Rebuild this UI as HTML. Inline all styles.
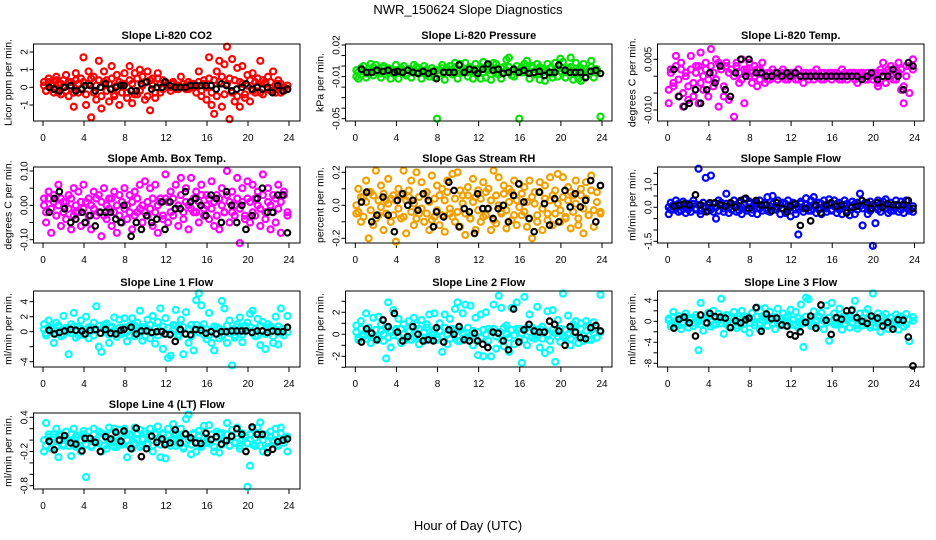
<!DOCTYPE html>
<html><head><meta charset="utf-8"><style>
html,body{margin:0;padding:0;background:#fff;}
svg{display:block;font-family:"Liberation Sans",Arial,sans-serif;}
</style></head><body>
<svg id="chart" width="936" height="540" viewBox="0 0 936 540" xmlns="http://www.w3.org/2000/svg">
<rect x="0" y="0" width="936" height="540" fill="#fff"/>
<text x="468" y="14" text-anchor="middle" font-size="13">NWR_150624  Slope Diagnostics</text>
<text x="468" y="530" text-anchor="middle" font-size="13">Hour of Day (UTC)</text>
</svg>
<script>
// shared hours
const hoursColored=[0.1,0.3,0.55,0.8,1.05,1.3,1.5,1.75,2.0,2.25,2.5,2.75,3.0,3.2,3.45,3.7,3.95,4.2,4.45,4.7,4.95,5.2,5.45,5.7,5.95,6.2,6.45,6.7,6.95,7.2,7.45,7.7,7.95,8.2,8.45,8.7,8.95,9.2,9.45,9.7,9.95,10.2,10.45,10.7,10.95,11.2,11.45,11.7,11.95,12.2,12.45,12.7,12.95,13.2,13.45,13.7,13.95,14.2,14.45,14.7,14.95,15.2,15.45,15.7,15.95,16.2,16.45,16.7,16.95,17.2,17.45,17.7,17.95,18.2,18.45,18.7,18.95,19.2,19.45,19.7,19.95,20.2,20.45,20.7,20.95,21.2,21.45,21.7,21.95,22.2,22.45,22.7,22.95,23.2,23.5,23.85];
const hoursBlack=[0.6,1.1,1.6,2.1,2.7,3.2,3.8,4.1,4.6,5.1,5.6,6.1,6.6,7.1,7.6,7.9,8.6,9.1,9.6,10.1,10.6,11.1,11.6,11.9,12.4,12.9,13.4,13.9,14.4,14.9,15.4,15.9,16.4,16.9,17.4,17.9,18.4,18.9,19.4,19.8,20.4,20.9,21.4,21.9,22.4,22.9,23.4,23.85];
const xTicks=[0,4,8,12,16,20,24];

const co2A=[0.3,-0.2,0.5,0.1,-0.3,0.6,0.2,-0.4,0.4,0.7,-0.5,0.3,-1.1,0.8,-0.3,0.5,1.7,-1.0,0.9,-1.7,0.6,-0.7,1.5,-1.2,0.9,0.4,-0.8,1.2,-0.5,0.7,-1.0,0.2,0.8,-0.6,1.2,-0.9,0.8,-0.4,1.0,0.6,-0.7,0.9,-1.3,0.5,-0.6,0.8,-0.3,0.4,0.3,0.2,-0.2,0.3,0.1,-0.1,0.6,0.2,-0.1,0.3,0.0,0.2,-0.3,0.9,-0.5,0.4,-0.7,1.7,-1.0,-1.5,0.9,1.5,-1.1,1.3,2.3,-1.8,1.6,-0.8,1.1,-1.1,1.2,-0.6,0.7,-0.8,0.8,-0.3,0.5,1.5,-0.4,0.3,0.6,-0.2,0.9,-0.3,0.4,0.2,-0.2,0.1];
const co2B=[0.1,-0.2,0.3,0.2,-0.1,0.4,-0.3,0.2,0.0,-0.2,0.3,0.1,-0.3,0.4,0.2,-0.1,0.3,-0.4,0.2,0.5,-0.3,0.1,0.4,-0.5,0.3,-0.2,0.2,0.5,-0.4,0.1,0.3,-0.3,0.2,-0.3,0.4,0.2,-0.4,0.5,-0.2,0.1,0.3,-0.5,0.4,0.1,-0.3,0.5,0.2,-0.1,0.3,0.1,0.0,0.2,-0.1,0.1,0.0,0.2,0.1,-0.1,0.2,0.0,0.1,0.3,-0.2,0.2,0.0,0.5,-0.3,0.4,-0.5,0.3,0.6,-0.4,0.2,0.5,-0.3,0.4,-0.5,0.3,0.2,-0.4,0.1,0.4,-0.2,0.3,0.1,-0.3,0.4,0.2,-0.1,0.3,-0.2,0.1,0.2,-0.3,0.0,-0.1];
const co2K=[0,-0.1,-0.2,0,0.1,-0.2,-0.1,0.1,0.1,-0.2,0,0.2,-0.1,0,0.1,0.1,-0.2,-0.2,0.2,0.3,-0.1,0,0,0.3,0.1,0,0,0,0.1,0.1,0.1,0.1,0.1,-0.1,0.2,0.1,-0.2,-0.1,0,0.2,-0.1,0,-0.1,0,-0.3,0.1,-0.2,-0.1];

const presA=[-0.01,-0.012,-0.002,0.0,-0.011,-0.006,0.002,-0.009,0.001,-0.004,-0.011,0.0,-0.008,-0.002,-0.012,-0.007,0.001,-0.012,-0.004,0.0,-0.009,-0.003,-0.011,0.001,-0.006,-0.002,-0.012,0.0,-0.008,-0.01,-0.002,-0.011,-0.05,-0.004,0.001,-0.013,-0.002,0.0,-0.008,0.003,-0.012,0.002,-0.006,0.003,-0.01,-0.001,-0.012,0.002,-0.004,-0.012,0.004,-0.011,0.0,-0.013,0.003,0.002,-0.008,-0.012,-0.001,0.006,0.008,-0.009,-0.01,0.0,-0.05,-0.006,0.002,0.005,-0.012,0.0,-0.008,0.002,-0.013,-0.003,-0.014,0.002,-0.007,-0.011,0.003,-0.01,0.007,0.004,-0.011,-0.002,0.008,-0.013,0.003,-0.012,-0.014,0.002,-0.01,-0.005,0.005,-0.011,-0.003,-0.048];
const presB=[-0.004,-0.006,-0.002,-0.005,-0.007,-0.003,-0.005,-0.001,-0.006,-0.004,-0.007,-0.002,-0.005,-0.006,-0.003,-0.005,-0.004,-0.006,-0.002,-0.005,-0.007,-0.003,-0.005,-0.004,-0.001,-0.006,-0.004,-0.007,-0.003,-0.005,-0.002,-0.006,-0.004,-0.007,-0.002,-0.005,-0.003,-0.006,-0.004,-0.001,-0.005,-0.007,-0.003,-0.004,-0.006,-0.002,-0.005,-0.003,-0.005,-0.002,-0.006,-0.003,-0.004,-0.001,-0.005,-0.007,-0.003,-0.002,-0.006,-0.004,-0.001,-0.005,-0.003,-0.006,-0.004,-0.001,-0.006,-0.003,-0.005,-0.002,-0.007,-0.004,-0.001,-0.006,-0.003,-0.005,-0.002,-0.007,-0.004,-0.003,-0.005,-0.002,-0.006,-0.003,-0.001,-0.005,-0.007,-0.004,-0.002,-0.006,-0.003,-0.005,-0.001,-0.004,-0.006];
const presK=[-0.003,-0.006,-0.006,-0.004,-0.005,-0.004,-0.006,-0.005,-0.006,-0.004,-0.006,-0.007,-0.005,-0.007,-0.005,-0.012,-0.006,-0.006,-0.006,0.001,-0.006,-0.003,-0.004,-0.007,-0.003,0.002,-0.004,-0.003,-0.007,-0.006,-0.003,-0.006,-0.004,-0.007,-0.006,-0.005,-0.009,-0.006,-0.006,0.001,-0.004,-0.006,-0.006,-0.006,-0.011,-0.005,-0.004,-0.007];

const tempA=[-0.008,0.002,-0.003,0.006,-0.006,0.004,-0.009,0.001,-0.007,0.006,-0.002,0.003,-0.008,0.007,-0.004,0.002,-0.006,0.008,-0.003,0.005,-0.009,0.003,-0.006,0.004,-0.007,0.002,-0.012,0.004,-0.002,0.005,-0.008,0.002,0.004,-0.002,0.003,-0.003,0.002,0.004,-0.002,0.001,-0.001,0.002,0.0,-0.001,0.001,0.002,-0.001,0.0,0.001,0.001,-0.001,0.002,0.0,-0.002,0.001,0.0,0.001,-0.001,0.002,0.0,-0.001,0.001,0.0,0.001,-0.001,0.0,0.001,-0.001,0.002,0.0,-0.001,0.001,0.0,0.001,-0.002,0.0,0.001,-0.001,0.001,0.0,-0.001,0.001,-0.003,0.002,0.004,-0.002,0.001,0.003,-0.001,0.002,0.004,-0.004,-0.008,0.003,-0.005,0.005];
const tempB=[-0.004,0.001,-0.002,0.003,-0.001,0.002,-0.005,0.0,-0.003,0.002,-0.006,0.001,0.003,-0.002,0.0,0.004,-0.001,0.003,0.001,-0.001,0.004,0.002,-0.003,0.003,0.001,0.002,0.0,0.003,0.001,-0.001,0.002,0.001,0.0,0.001,0.0,0.002,-0.001,0.001,0.0,-0.001,0.001,0.0,0.001,-0.001,0.0,0.001,0.0,-0.001,0.0,0.0,0.001,-0.001,0.0,0.001,0.0,-0.001,0.0,0.001,0.0,0.0,0.001,-0.001,0.0,0.0,0.001,0.001,0.0,0.0,-0.001,0.001,0.0,0.0,0.001,-0.001,0.0,0.001,0.0,0.0,-0.001,0.0,0.001,0.0,-0.002,0.001,0.0,-0.002,0.002,0.0,0.002,-0.001,0.001,0.002,-0.003,0.0,0.003,0.002];
const tempK=[0.002,-0.006,-0.009,-0.008,-0.004,-0.008,-0.004,0.001,-0.002,0.003,-0.004,-0.006,0.001,0.005,0.0,0.005,0.001,0.001,0.0,0.0,0.001,0.0,0.001,0.0,0.001,0.0,0.0,0.0,0.0,0.0,0.0,0.0,0.0,0.0,0.0,0.0,0.0,-0.001,0.0,0.001,-0.001,0.0,0.0,0.002,0.0,-0.004,0.004,0.003];

const ambA=[0.02,-0.05,0.04,-0.08,0.03,-0.03,0.06,-0.06,0.01,-0.04,0.03,-0.07,0.05,-0.02,0.04,-0.06,0.06,-0.05,0.02,-0.07,0.04,-0.03,0.03,-0.09,0.05,-0.04,0.02,-0.06,0.04,-0.08,0.03,-0.05,0.05,-0.04,0.03,-0.07,0.04,-0.02,0.06,-0.05,0.07,-0.03,0.05,-0.06,0.06,-0.08,0.02,-0.04,0.09,-0.05,0.04,-0.03,0.06,-0.06,0.08,-0.04,0.05,-0.07,0.08,-0.02,0.04,-0.05,0.06,-0.03,0.03,-0.04,0.07,-0.06,0.03,-0.07,0.05,-0.02,0.1,-0.05,0.04,-0.03,0.08,-0.11,0.05,-0.04,0.07,-0.05,0.06,-0.03,0.04,-0.06,0.09,-0.04,0.05,-0.07,0.03,-0.05,0.06,-0.08,0.04,-0.03];
const ambB=[0.0,-0.02,0.02,-0.01,0.01,-0.03,0.0,0.02,-0.02,0.01,-0.01,0.02,-0.03,0.0,-0.02,0.01,-0.01,0.01,-0.03,0.0,-0.01,0.02,-0.02,0.01,-0.03,0.0,-0.01,0.02,-0.02,0.0,-0.03,0.01,-0.01,0.0,-0.02,0.01,-0.03,0.02,-0.01,0.0,-0.02,0.01,-0.01,0.02,-0.02,0.0,0.01,-0.03,0.02,0.01,-0.02,0.02,-0.01,0.0,0.03,-0.02,0.01,0.0,-0.01,0.02,-0.02,0.01,0.03,-0.01,0.0,0.02,-0.01,0.01,-0.03,0.02,0.0,-0.02,0.03,0.01,-0.02,0.0,0.02,-0.01,0.01,-0.03,0.02,0.01,-0.02,0.02,0.0,-0.01,0.03,-0.02,0.01,0.0,-0.02,0.02,-0.01,0.01,0.03,-0.02];
const ambK=[-0.02,0.02,0.04,-0.01,-0.05,-0.04,-0.02,-0.05,-0.03,-0.06,-0.02,-0.02,-0.02,-0.04,-0.05,0.0,-0.09,-0.05,-0.07,-0.03,-0.05,-0.04,0.01,-0.07,0.01,-0.01,-0.01,0.04,0.01,0.02,0.0,-0.03,0.03,0.02,-0.05,0.04,0.0,-0.05,0.0,-0.07,-0.03,0.02,0.05,-0.02,-0.02,0.03,0.03,-0.08];

const rhA=[-0.05,0.1,-0.1,0.05,0.15,-0.2,0.08,-0.12,0.21,-0.06,0.12,-0.15,0.03,0.16,-0.1,0.06,-0.22,0.1,-0.08,0.21,-0.17,0.05,0.15,-0.12,0.2,-0.05,0.14,-0.1,0.08,-0.15,0.18,-0.07,0.12,-0.12,0.1,-0.16,0.15,-0.05,0.19,-0.1,0.2,-0.13,0.06,-0.18,0.11,-0.08,0.16,-0.15,0.09,-0.1,0.14,-0.06,0.1,-0.15,0.21,-0.11,0.17,-0.04,0.12,-0.14,0.1,-0.09,0.15,-0.12,0.13,-0.06,0.11,-0.13,0.15,-0.2,0.08,-0.1,0.14,-0.15,0.12,-0.05,0.17,-0.12,0.09,0.19,-0.1,0.17,-0.08,0.11,-0.14,0.06,0.15,-0.12,0.1,-0.17,0.14,-0.06,0.18,-0.13,0.08,-0.04];
const rhB=[0.0,-0.04,0.05,-0.07,0.02,0.08,-0.03,0.06,-0.08,0.03,-0.01,0.07,-0.05,0.01,0.04,-0.06,0.03,-0.02,0.06,-0.07,0.03,0.09,-0.04,0.01,-0.08,0.05,-0.02,0.07,-0.05,0.02,-0.09,0.04,-0.03,0.06,-0.06,0.03,0.08,-0.02,-0.07,0.04,-0.04,0.09,0.01,-0.05,0.06,-0.08,0.02,0.05,-0.03,0.04,-0.07,0.08,-0.02,0.03,-0.09,0.06,0.0,-0.05,0.07,-0.03,0.02,0.08,-0.06,0.03,-0.01,0.07,-0.04,0.02,-0.08,0.05,0.01,-0.06,0.08,-0.02,0.04,-0.09,0.03,0.06,-0.05,0.01,-0.03,0.05,-0.07,0.03,0.08,-0.04,0.01,-0.08,0.06,-0.02,0.04,-0.06,0.09,-0.03,0.02,-0.05];
const rhK=[0.02,0.08,-0.1,-0.06,0.05,-0.06,-0.16,0.03,0.07,0.0,0.03,-0.03,0.07,0.03,-0.13,-0.04,-0.07,0.14,0.09,-0.13,-0.02,-0.04,-0.17,0.07,-0.02,-0.02,-0.08,-0.02,0.0,-0.1,0.06,0.13,0.02,-0.08,-0.16,0.08,0.01,-0.12,0.04,-0.1,0.09,-0.01,0.07,-0.01,0.03,0.15,-0.1,0.12];

const sfA=[-0.3,0.2,-0.1,0.3,-0.2,0.1,0.25,-0.25,0.15,-0.2,0.3,-0.1,1.7,-0.3,0.2,1.3,-0.15,1.4,-0.2,-0.5,0.3,0.2,-0.2,0.6,-0.25,0.15,0.3,-0.2,0.2,-0.3,0.35,-0.15,0.25,-0.25,0.2,-0.3,0.3,-0.15,0.2,0.45,-0.2,0.5,-0.1,0.3,-0.3,0.2,-0.25,0.3,-0.4,0.2,-0.3,-1.2,0.25,-0.2,0.4,-0.15,0.3,0.45,-0.25,0.2,-0.3,0.3,-0.2,0.35,-0.15,0.3,-0.25,0.2,-0.3,0.3,0.15,-0.35,0.25,-0.3,0.2,0.6,-0.8,0.2,-0.3,0.25,-1.7,-0.7,0.3,-0.2,0.25,0.35,-0.25,0.2,-0.15,0.3,-0.2,0.25,-0.25,0.3,-0.15,-0.2];
const sfB=[0.0,-0.1,0.1,-0.05,0.15,-0.15,0.05,0.1,-0.1,0.0,0.15,-0.05,0.1,-0.15,0.05,0.0,0.1,-0.1,0.15,0.0,-0.15,0.1,-0.05,0.15,0.0,-0.1,0.1,0.05,-0.15,0.0,0.1,-0.05,0.15,-0.1,0.05,0.15,-0.05,0.0,0.1,-0.15,0.05,0.15,-0.1,0.0,0.1,-0.05,0.15,-0.1,0.05,0.1,-0.1,0.0,0.15,-0.05,0.1,0.0,-0.15,0.1,0.05,-0.1,0.15,0.0,-0.05,0.1,-0.1,0.05,0.15,-0.1,0.0,0.1,-0.15,0.05,0.0,0.15,-0.1,0.05,-0.05,0.1,0.0,-0.15,0.1,0.0,-0.1,0.15,0.05,-0.05,0.1,-0.15,0.0,0.1,0.05,-0.1,0.15,0.0,-0.05,0.05];
const sfK=[0.05,0.1,0.15,0.1,0.55,0.1,-0.2,0.2,0.2,0.1,0.05,0.2,0.0,0.3,0.4,-0.05,0.3,0.1,0.1,-0.15,0.2,-0.05,-0.2,0.05,0.15,-0.8,-0.05,-0.6,0.1,-0.25,0.1,0.2,0.05,0.1,-0.25,0.0,0.05,0.3,0.2,-0.05,0.2,0.0,0.15,0.1,0.1,0.1,0.3,-0.05];

const l1A=[1.0,-0.5,1.5,0.5,-1.5,1.2,0.8,-0.6,2.1,0.3,-3.0,1.0,2.5,-0.8,0.7,1.5,-0.4,2.0,-0.9,0.6,1.2,3.4,-2.0,-2.7,0.9,1.1,-1.5,0.5,1.9,-0.7,1.6,-0.3,1.8,-1.3,0.8,1.8,-0.6,1.2,2.8,-1.2,0.6,1.6,-0.9,2.1,-1.6,1.3,3.1,-2.3,1.8,-3.5,-3.2,0.9,2.9,-0.7,1.6,-3.0,2.6,-1.5,0.9,-2.5,4.2,5.1,3.5,1.0,-1.0,2.5,-1.5,-2.5,0.6,-0.9,4.1,3.1,-1.5,1.5,-4.5,-0.8,1.0,1.9,-1.4,0.8,1.2,2.4,2.8,-0.6,1.7,-1.8,1.3,-2.3,1.0,0.7,-1.5,2.0,-1.7,3.1,-0.5,2.1];
const l1B=[0.3,-0.2,0.6,0.0,0.4,-0.3,0.8,0.2,-0.4,0.5,0.1,-0.2,0.7,0.0,-0.5,0.4,0.2,-0.3,0.6,0.1,-0.5,0.3,0.8,-0.2,0.4,0.0,-0.4,0.7,0.2,-0.3,0.5,-0.1,0.6,0.0,-0.5,0.4,0.8,-0.3,0.2,0.6,-0.6,0.3,0.9,-0.2,0.4,-0.5,0.1,0.7,-0.3,0.5,-0.2,0.3,0.8,-0.4,0.1,0.6,-0.3,0.4,-0.6,0.2,0.9,-0.1,0.5,-0.4,0.3,-0.5,0.2,0.7,-0.3,0.4,-0.6,0.1,0.8,-0.2,0.3,-0.5,0.6,0.0,-0.4,0.5,0.2,0.6,-0.2,0.4,-0.5,0.8,0.1,-0.3,0.5,0.0,-0.6,0.3,0.7,-0.2,0.4,-0.1];
const l1K=[0.2,-0.3,-0.1,0.1,0.3,0.2,0.1,-0.3,0.2,0.3,-0.2,0.3,-0.2,-0.3,0.2,0.3,0.6,-0.3,0.1,0.1,-0.1,0.0,0.0,-0.3,-0.4,-1.3,0.3,-0.3,-0.4,0.3,0.2,-0.2,0.0,-0.3,0.0,0.0,0.1,0.1,0.1,0.1,-0.1,0.1,0.1,-0.1,0.1,0.0,0.0,0.6];

const l2A=[0.8,-0.5,1.2,-0.2,1.9,0.6,-0.8,1.5,-0.3,1.6,0.9,-0.6,-2.2,2.9,-1.2,2.2,0.5,1.4,-0.8,0.9,-0.3,1.2,-0.5,1.5,0.8,-0.9,1.3,-0.6,0.9,1.8,-0.4,1.9,-0.3,1.0,-1.6,1.8,-0.9,1.4,0.4,2.3,2.9,-0.6,1.9,2.7,-0.3,2.6,-1.0,1.5,-1.9,1.8,-2.0,2.0,0.5,-2.0,2.7,-1.3,3.5,2.4,-1.1,0.8,-1.6,2.4,-0.9,2.9,0.5,-2.6,3.4,-1.0,1.8,0.6,-0.4,2.5,-1.2,0.7,-1.7,2.1,-1.4,2.2,-2.5,1.3,-0.7,3.7,-0.3,1.7,-1.0,0.9,1.2,-0.8,1.0,-0.6,1.2,0.8,-0.5,1.1,-0.3,3.6];
const l2B=[0.2,-0.3,0.5,0.0,-0.4,0.6,0.1,-0.2,0.4,-0.5,0.3,0.0,0.6,-0.3,0.2,-0.1,0.4,-0.2,0.5,0.0,-0.5,0.3,0.7,-0.3,0.1,0.5,-0.4,0.2,0.6,-0.2,0.0,0.4,-0.5,0.3,-0.2,0.6,0.0,-0.4,0.5,0.2,-0.6,0.4,0.1,-0.3,0.6,-0.1,0.3,-0.5,0.2,-0.3,0.4,0.0,-0.6,0.3,0.5,-0.2,0.2,-0.5,0.6,0.0,-0.3,0.4,-0.1,0.5,-0.4,0.1,-0.5,0.6,0.2,-0.3,0.4,-0.1,0.5,-0.4,0.3,0.0,-0.6,0.4,0.1,-0.2,0.5,-0.2,0.4,0.0,-0.4,0.6,0.2,-0.3,0.5,-0.1,0.3,-0.5,0.4,0.1,-0.3,0.2];
const l2K=[-0.7,0.5,0.1,-0.5,1.3,0.7,1.9,0.2,-0.6,-0.2,0.7,0.0,-0.6,-0.5,-0.6,0.6,-0.7,0.4,0.0,0.7,-0.5,-0.6,0.1,-0.6,-0.9,-1.2,0.2,0.1,-0.6,-1.4,2.3,-0.7,0.4,0.9,0.3,0.2,0.2,1.2,0.9,0.3,-1.0,0.7,0.2,-0.3,-0.4,0.6,0.8,0.3];

const l3A=[0.5,-1.0,1.8,-0.5,1.0,-1.5,0.8,1.5,-1.2,0.6,-0.3,1.2,-5.5,3.5,-1.8,0.9,1.6,-1.0,2.0,-0.6,1.4,4.3,-2.4,1.2,-1.0,0.6,1.8,-1.3,0.9,2.0,-1.5,0.8,-2.2,1.6,-0.8,2.6,-1.5,1.0,2.5,-0.9,1.8,0.5,-1.5,2.4,-0.4,1.5,0.7,-0.9,2.2,-0.6,1.8,-1.2,3.2,-4.9,4.5,4.2,-0.9,1.9,-1.3,0.9,1.6,-1.5,3.0,-3.7,3.5,1.5,-0.6,2.4,-1.6,1.0,0.7,-1.2,2.2,3.9,-1.4,1.5,-0.8,1.6,2.3,-1.2,5.3,-1.0,1.5,-2.0,0.8,1.4,-1.5,0.7,-0.9,1.3,-1.6,0.9,-1.0,1.4,-3.8,0.8];
const l3B=[0.2,-0.5,0.8,0.0,-0.8,0.5,-0.2,0.9,-0.4,0.3,-0.9,0.6,0.0,-0.6,0.4,-0.2,0.8,0.0,-0.7,0.6,0.2,-0.4,0.9,-0.6,0.3,-0.1,0.7,-0.8,0.4,0.0,-0.5,0.8,-0.3,0.5,-0.2,0.9,-0.6,0.2,0.7,-0.8,0.3,-0.3,0.8,0.0,-0.7,0.5,-0.1,0.9,-0.5,0.3,-0.8,0.6,0.0,-0.4,0.9,-0.2,0.5,-0.7,0.2,0.8,-0.5,0.1,-0.3,0.7,0.0,-0.6,0.4,-0.1,0.8,-0.5,0.2,0.9,-0.3,0.5,-0.8,0.1,0.6,-0.4,0.3,-0.7,0.6,0.2,-0.5,0.8,-0.2,0.4,-0.7,0.6,0.0,-0.4,0.7,-0.1,0.5,-0.6,0.3,0.1];
const l3K=[-1.3,0.4,0.8,-0.3,-2.8,1.2,-0.3,1.5,0.9,0.8,0.6,-1.2,0.1,-0.3,0.3,0.6,2.6,-1.9,1.4,0.5,0.6,-0.7,-0.9,-2.5,-2.8,-2.0,-0.2,1.0,-1.3,3.1,0.2,-2.5,0.7,0.4,2.0,2.1,0.7,0.0,-0.4,1.0,0.6,-0.9,-0.2,-1.5,0.3,0.2,-3.0,-8.5];

const l4A=[-0.2,0.3,0.1,-0.15,0.05,0.2,-0.3,0.1,-0.1,0.15,0.0,-0.28,0.2,-0.12,0.08,-0.2,0.16,-0.65,0.15,-0.1,0.2,-0.05,0.15,-0.2,0.1,-0.15,0.22,0.0,0.2,-0.12,0.18,-0.05,0.2,-0.3,0.1,-0.15,0.22,0.0,0.18,-0.1,0.15,-0.08,0.2,-0.2,0.1,0.24,-0.3,0.12,-0.32,0.2,0.0,0.28,-0.1,0.05,0.2,-0.15,0.37,0.45,-0.25,0.1,-0.2,0.16,-0.12,0.25,-0.05,0.26,0.1,-0.2,0.15,-0.22,0.12,0.0,0.3,-0.1,0.18,-0.05,0.22,-0.15,0.12,0.05,-0.82,-0.45,0.2,-0.1,0.22,0.31,-0.2,0.1,-0.15,0.15,0.0,0.2,-0.1,0.22,-0.05,-0.2];
const l4B=[0.0,-0.1,0.05,-0.05,0.1,-0.12,0.0,0.08,-0.08,0.05,-0.1,0.1,-0.02,0.06,-0.12,0.0,0.1,-0.08,0.05,-0.12,0.1,0.0,-0.06,0.12,-0.1,0.04,-0.02,0.1,-0.12,0.06,0.0,-0.08,0.12,0.0,-0.1,0.08,-0.05,0.12,-0.12,0.02,0.1,-0.06,0.06,-0.1,0.12,0.0,-0.08,0.1,-0.04,0.08,-0.1,0.02,0.12,-0.06,0.06,-0.12,0.1,0.0,-0.08,0.12,-0.04,0.08,-0.1,0.04,0.0,-0.06,0.1,-0.12,0.04,0.12,-0.08,0.0,0.1,-0.1,0.06,-0.04,0.12,-0.1,0.02,0.08,-0.06,0.1,-0.08,0.04,0.12,-0.1,0.0,0.08,-0.12,0.06,-0.04,0.1,-0.08,0.12,0.0,0.06];
const l4K=[-0.02,-0.17,0.0,0.08,-0.05,-0.07,-0.19,0.03,0.03,-0.04,-0.2,0.06,0.02,0.14,-0.02,0.16,-0.15,0.21,-0.29,-0.15,0.07,-0.04,0.02,-0.08,-0.05,0.18,-0.05,0.11,0.04,-0.05,-0.06,0.12,0.01,0.06,-0.07,-0.01,0.07,0.2,0.1,-0.2,0.23,0.1,0.1,-0.22,-0.16,-0.03,0.0,0.02];

const ticksCO2=[-1,0,1,2], labelsCO2=["-1","0","1","2"];
const ticksPres=[0.02,0.01,0,-0.01,-0.02,-0.03,-0.04,-0.05], labelsPres=["0.02","","","-0.01","","","","-0.05"];
const ticksTemp=[0.005,0,-0.005,-0.01], labelsTemp=["0.005","","","-0.010"];
const ticksAmb=[0.1,0.05,0,-0.05,-0.1], labelsAmb=["0.10","","0.00","","-0.10"];
const ticksRH=[0.2,0.1,0,-0.1,-0.2], labelsRH=["0.2","","0.0","","-0.2"];
const ticksSF=[1.5,1.0,0.5,0,-0.5,-1.0,-1.5], labelsSF=["","1.0","","0.0","","","-1.5"];
const ticksL1=[4,2,0,-2,-4], labelsL1=["4","2","0","","-4"];
const ticksL2=[3,2,1,0,-1,-2,-3], labelsL2=["","2","","0","","-2",""];
const ticksL3=[4,2,0,-2,-4,-6,-8], labelsL3=["4","","0","","-4","","-8"];
const ticksL4=[0.4,0.2,0,-0.2,-0.4,-0.6,-0.8], labelsL4=["0.4","","","-0.2","","","-0.8"];

const NS="http://www.w3.org/2000/svg";
const svg=document.getElementById('chart');
function mk(tag,attrs,parent){const e=document.createElementNS(NS,tag);for(const k in attrs)e.setAttribute(k,attrs[k]);(parent||svg).appendChild(e);return e;}

const cols=[{l:33.5,r:300,x0:43,x24:289},{l:345.5,r:612,x0:355.3,x24:602},{l:657.5,r:924,x0:667.7,x24:914.5}];
const rows=[{t:44,b:121},{t:167,b:243},{t:291,b:367},{t:413,b:489}];

const panels=[
 {key:'co2',title:'Slope Li-820 CO2',ylab:'Licor ppm per min.',c:0,r:0,v1:2,p1:52,v2:-1,p2:105,A:co2A,B:co2B,K:co2K,ticks:ticksCO2,labels:labelsCO2,color:'#ff0000'},
 {key:'pressure',title:'Slope Li-820 Pressure',ylab:'kPa per min.',c:1,r:0,v1:0.02,p1:45,v2:-0.05,p2:118.7,A:presA,B:presB,K:presK,ticks:ticksPres,labels:labelsPres,color:'#00e400'},
 {key:'temp',title:'Slope Li-820 Temp.',ylab:'degrees C per min.',c:2,r:0,v1:0.005,p1:59.3,v2:-0.01,p2:110,A:tempA,B:tempB,K:tempK,ticks:ticksTemp,labels:labelsTemp,color:'#ff00ff'},
 {key:'amb-box',title:'Slope Amb. Box Temp.',ylab:'degrees C per min.',c:0,r:1,v1:0.1,p1:171,v2:-0.1,p2:239.7,A:ambA,B:ambB,K:ambK,ticks:ticksAmb,labels:labelsAmb,color:'#ff00ff'},
 {key:'gas-rh',title:'Slope Gas Stream RH',ylab:'percent per min.',c:1,r:1,v1:0.2,p1:172.3,v2:-0.2,p2:238.3,A:rhA,B:rhB,K:rhK,ticks:ticksRH,labels:labelsRH,color:'#f2a000'},
 {key:'sample-flow',title:'Slope Sample Flow',ylab:'ml/min per min.',c:2,r:1,v1:1.5,p1:173.3,v2:-1.5,p2:241.3,A:sfA,B:sfB,K:sfK,ticks:ticksSF,labels:labelsSF,color:'#0000ff'},
 {key:'line1',title:'Slope Line 1 Flow',ylab:'ml/min per min.',c:0,r:2,v1:4,p1:301.7,v2:-4,p2:361.7,A:l1A,B:l1B,K:l1K,ticks:ticksL1,labels:labelsL1,color:'#00ffff'},
 {key:'line2',title:'Slope Line 2 Flow',ylab:'ml/min per min.',c:1,r:2,v1:2,p1:312.3,v2:-2,p2:356.3,A:l2A,B:l2B,K:l2K,ticks:ticksL2,labels:labelsL2,color:'#00ffff'},
 {key:'line3',title:'Slope Line 3 Flow',ylab:'ml/min per min.',c:2,r:2,v1:4,p1:300.3,v2:-8,p2:363.3,A:l3A,B:l3B,K:l3K,ticks:ticksL3,labels:labelsL3,color:'#00ffff'},
 {key:'line4',title:'Slope Line 4 (LT) Flow',ylab:'ml/min per min.',c:0,r:3,v1:0.4,p1:417.3,v2:-0.8,p2:485.7,A:l4A,B:l4B,K:l4K,ticks:ticksL4,labels:labelsL4,color:'#00ffff'}
];

panels.forEach(p=>{
  const C=cols[p.c], R=rows[p.r];
  const g=mk('g',{});
  
  
  const xs=h=>C.x0+(C.x24-C.x0)*h/24;
  const ys=v=>p.p1+(p.p2-p.p1)*(v-p.v1)/(p.v2-p.v1);
  const cx=(C.l+C.r)/2;
  const t=mk('text',{x:cx,y:R.t-5,'text-anchor':'middle','font-size':'11','font-weight':'bold'},g);
  t.textContent=p.title;
  
  
  const xa=mk('g',{},g);
  
  
  mk('line',{x1:xs(0),x2:xs(24),y1:R.b,y2:R.b,stroke:'#000','stroke-width':1},xa);
  xTicks.forEach(h=>{
    mk('line',{x1:xs(h),x2:xs(h),y1:R.b,y2:R.b+5,stroke:'#000','stroke-width':1},xa);
    const tl=mk('text',{x:xs(h),y:R.b+20,'text-anchor':'middle','font-size':'10'},xa);
    tl.textContent=String(h);
    
    
  });
  const ya=mk('g',{},g);
  
  
  const yt=p.ticks.map(ys);
  mk('line',{x1:C.l,x2:C.l,y1:Math.min(...yt),y2:Math.max(...yt),stroke:'#000','stroke-width':1},ya);
  p.ticks.forEach((v,i)=>{
    const y=ys(v);
    mk('line',{x1:C.l-4,x2:C.l,y1:y,y2:y,stroke:'#000','stroke-width':1},ya);
    if(p.labels[i]){
      const tl=mk('text',{x:C.l-6,y:y,'text-anchor':'middle','font-size':'10',transform:`rotate(-90 ${C.l-6} ${y})`},ya);
      tl.textContent=p.labels[i];
      
      
    }
  });
  const yl=mk('text',{x:C.l-22,y:(R.t+R.b)/2,'text-anchor':'middle','font-size':'10.5',transform:`rotate(-90 ${C.l-22} ${(R.t+R.b)/2})`},g);
  yl.textContent=p.ylab;
  
  
  const pts=mk('g',{},g);
  
  
  [p.A,p.B].forEach(arr=>{
    const n=Math.min(arr.length,hoursColored.length);
    for(let i=0;i<n;i++){
      const c=mk('circle',{cx:xs(hoursColored[i]),cy:ys(arr[i]),r:3.0,fill:'none',stroke:p.color,'stroke-width':2.2},pts);
      
      
    }
  });
  const n=Math.min(p.K.length,hoursBlack.length);
  for(let i=0;i<n;i++){
    const c=mk('circle',{cx:xs(hoursBlack[i]),cy:ys(p.K[i]),r:2.8,fill:'none',stroke:'#000','stroke-width':2.1},pts);
    
    
  }
  const box=mk('rect',{x:C.l,y:R.t,width:C.r-C.l,height:R.b-R.t,fill:'none',stroke:'#000','stroke-width':1},g);
  
  
});
</script>
</body></html>
